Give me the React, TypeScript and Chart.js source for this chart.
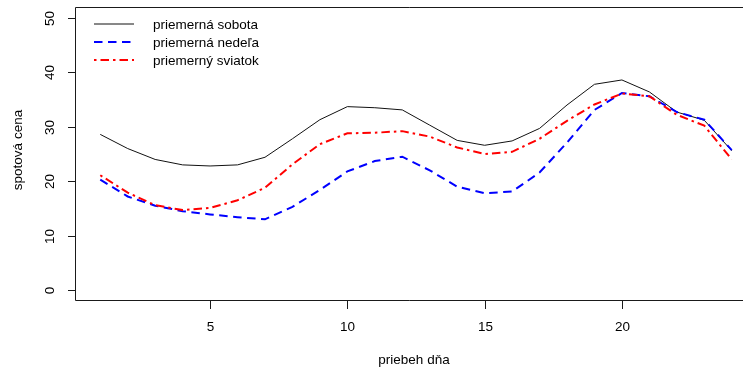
import { useEffect, useRef } from "react";
import { Chart, registerables } from "chart.js";

Chart.register(...registerables);

// Hour of the day
const hours = [1, 2, 3, 4, 5, 6, 7, 8, 9, 10, 11, 12, 13, 14, 15, 16, 17, 18, 19, 20, 21, 22, 23, 24];

// Average spot price per hour
const sobota = [28.6, 26.0, 24.0, 23.0, 22.8, 23.0, 24.4, 27.8, 31.3, 33.7, 33.5, 33.1, 30.3, 27.5, 26.6, 27.4, 29.7, 34.0, 37.8, 38.6, 36.4, 32.7, 31.2, 25.6];
const nedela = [20.3, 17.2, 15.5, 14.5, 13.9, 13.4, 13.0, 15.3, 18.4, 21.8, 23.7, 24.5, 22.0, 19.0, 17.8, 18.1, 21.6, 27.1, 33.1, 36.2, 35.6, 32.7, 31.3, 25.7];
const sviatok = [21.1, 17.9, 15.6, 14.7, 15.1, 16.5, 18.8, 23.1, 26.8, 28.8, 28.9, 29.2, 28.2, 26.2, 25.0, 25.4, 27.8, 31.1, 34.1, 36.1, 35.6, 32.2, 30.2, 24.0];

const seriesNames = ["priemerná sobota", "priemerná nedeľa", "priemerný sviatok"];
const xTicks = [5, 10, 15, 20];
const yTicks = [0, 10, 20, 30, 40, 50];
const xTitle = "priebeh dňa";
const yTitle = "spotová cena";

const FONT = '13.5px "Liberation Sans", Arial, sans-serif';

const toPoints = (vals: number[]) => hours.map((h, i) => ({ x: h, y: vals[i] }));

// Draws the frame, axes, titles and legend in the style of a base R plot
const frame = {
  id: "rFrame",
  afterDraw(chart: any) {
    const { ctx, chartArea: a, scales } = chart;
    const xs = scales.x;
    const ys = scales.y;
    ctx.save();
    ctx.strokeStyle = "#1a1a1a";
    ctx.lineWidth = 1;
    ctx.setLineDash([]);

    // box (its right side falls beyond the canvas)
    ctx.beginPath();
    ctx.moveTo(a.right + 2, a.top + 0.5);
    ctx.lineTo(a.left + 0.5, a.top + 0.5);
    ctx.lineTo(a.left + 0.5, a.bottom - 0.5);
    ctx.lineTo(a.right + 2, a.bottom - 0.5);
    ctx.stroke();

    ctx.fillStyle = "#000";
    ctx.font = FONT;
    ctx.textAlign = "center";
    ctx.textBaseline = "middle";

    // y axis ticks and rotated labels
    for (const v of yTicks) {
      const py = Math.round(ys.getPixelForValue(v)) + 0.5;
      ctx.beginPath();
      ctx.moveTo(a.left - 7, py);
      ctx.lineTo(a.left + 0.5, py);
      ctx.stroke();
      ctx.save();
      ctx.translate(50, py);
      ctx.rotate(-Math.PI / 2);
      ctx.fillText(String(v), 0, 0);
      ctx.restore();
    }

    // x axis ticks and labels
    for (const v of xTicks) {
      const px = Math.round(xs.getPixelForValue(v)) + 0.5;
      ctx.beginPath();
      ctx.moveTo(px, a.bottom - 0.5);
      ctx.lineTo(px, a.bottom + 8);
      ctx.stroke();
      ctx.fillText(String(v), px, 327);
    }

    // axis titles
    ctx.fillText(xTitle, 414, 360);
    ctx.save();
    ctx.translate(18, 150);
    ctx.rotate(-Math.PI / 2);
    ctx.fillText(yTitle, 0, 0);
    ctx.restore();

    // legend
    ctx.textAlign = "left";
    chart.data.datasets.forEach((ds: any, i: number) => {
      const ly = a.top + 17 + i * 18;
      ctx.save();
      ctx.strokeStyle = ds.borderColor;
      ctx.lineWidth = ds.borderWidth;
      ctx.setLineDash(ds.borderDash || []);
      ctx.beginPath();
      ctx.moveTo(a.left + 19, ly);
      ctx.lineTo(a.left + 59, ly);
      ctx.stroke();
      ctx.restore();
      ctx.fillText(ds.label, a.left + 78, ly + 1);
    });

    ctx.restore();
  },
};

export default function App() {
  const ref = useRef<HTMLCanvasElement | null>(null);

  useEffect(() => {
    if (!ref.current) return;
    const chart = new Chart(ref.current, {
      type: "line",
      data: {
        datasets: [
          {
            label: seriesNames[0],
            data: toPoints(sobota),
            borderColor: "#111111",
            borderWidth: 1,
            pointRadius: 0,
            tension: 0,
            order: 2,
          },
          {
            label: seriesNames[1],
            data: toPoints(nedela),
            borderColor: "#0000ff",
            borderWidth: 2,
            borderDash: [8.5, 5.5],
            pointRadius: 0,
            tension: 0,
            order: 1,
          },
          {
            label: seriesNames[2],
            data: toPoints(sviatok),
            borderColor: "#ff0000",
            borderWidth: 2,
            borderDash: [2.5, 4, 8.5, 4],
            pointRadius: 0,
            tension: 0,
            order: 0,
          },
        ],
      },
      options: {
        responsive: false,
        animation: false,
        layout: { padding: { left: 75, top: 7, right: 0, bottom: 73 } },
        scales: {
          x: { type: "linear", min: 0.08, max: 24.41, display: false },
          y: { type: "linear", min: -2, max: 52, display: false },
        },
        plugins: {
          legend: { display: false },
          tooltip: { enabled: false },
        },
      },
      plugins: [frame],
    });
    return () => chart.destroy();
  }, []);

  return (
    <div style={{ position: "absolute", left: 0, top: 0, width: 743, height: 374, background: "#fff" }}>
      <canvas ref={ref} width={743} height={374} />
    </div>
  );
}
